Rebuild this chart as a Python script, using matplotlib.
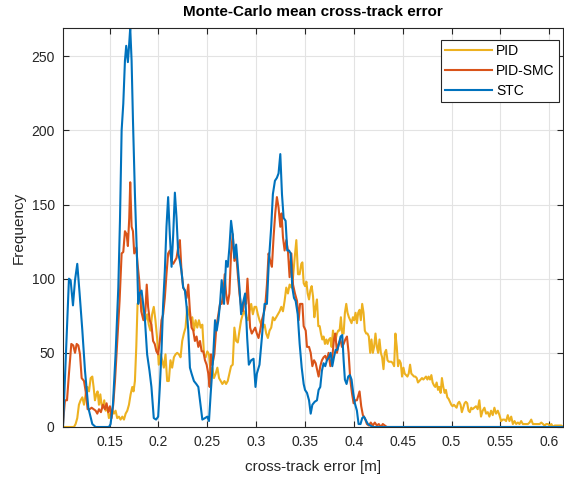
import matplotlib.pyplot as plt

# histogram-like frequency curves
pid_x = [0.1023, 0.1135, 0.1152, 0.1169, 0.1186, 0.1203, 0.1221, 0.1238, 0.1255, 0.1272, 0.1289, 0.1306,
         0.1323, 0.1336, 0.1350, 0.1364, 0.1377, 0.1391, 0.1405, 0.1418, 0.1432, 0.1445, 0.1459, 0.1476,
         0.1493, 0.1510, 0.1527, 0.1544, 0.1561, 0.1578, 0.1595, 0.1612, 0.1630, 0.1647, 0.1664, 0.1681,
         0.1698, 0.1715, 0.1732, 0.1745, 0.1759, 0.1773, 0.1786, 0.1800, 0.1817, 0.1832, 0.1849, 0.1866,
         0.1884, 0.1901, 0.1918, 0.1935, 0.1952, 0.1969, 0.1986, 0.2003, 0.2021, 0.2038, 0.2055, 0.2072,
         0.2089, 0.2106, 0.2123, 0.2140, 0.2158, 0.2175, 0.2192, 0.2209, 0.2226, 0.2243, 0.2260, 0.2277,
         0.2295, 0.2312, 0.2329, 0.2346, 0.2363, 0.2380, 0.2397, 0.2414, 0.2432, 0.2449, 0.2466, 0.2483,
         0.2500, 0.2517, 0.2534, 0.2551, 0.2568, 0.2586, 0.2603, 0.2620, 0.2637, 0.2654, 0.2675, 0.2692,
         0.2709, 0.2726, 0.2743, 0.2760, 0.2777, 0.2795, 0.2812, 0.2829, 0.2846, 0.2863, 0.2880, 0.2897,
         0.2914, 0.2932, 0.2949, 0.2966, 0.2983, 0.3000, 0.3017, 0.3034, 0.3051, 0.3068, 0.3086, 0.3103,
         0.3120, 0.3137, 0.3154, 0.3171, 0.3188, 0.3205, 0.3223, 0.3240, 0.3257, 0.3274, 0.3291, 0.3308,
         0.3325, 0.3342, 0.3360, 0.3377, 0.3394, 0.3411, 0.3428, 0.3445, 0.3462, 0.3473, 0.3486, 0.3500,
         0.3514, 0.3527, 0.3541, 0.3554, 0.3568, 0.3582, 0.3595, 0.3609, 0.3622, 0.3636, 0.3650, 0.3663,
         0.3677, 0.3690, 0.3704, 0.3718, 0.3731, 0.3745, 0.3759, 0.3772, 0.3786, 0.3799, 0.3813, 0.3827,
         0.3840, 0.3854, 0.3867, 0.3881, 0.3895, 0.3908, 0.3922, 0.3935, 0.3949, 0.3963, 0.3976, 0.3990,
         0.4003, 0.4017, 0.4031, 0.4044, 0.4058, 0.4071, 0.4085, 0.4099, 0.4112, 0.4126, 0.4139, 0.4153,
         0.4167, 0.4180, 0.4194, 0.4207, 0.4221, 0.4235, 0.4248, 0.4262, 0.4276, 0.4289, 0.4303, 0.4316,
         0.4330, 0.4344, 0.4357, 0.4371, 0.4384, 0.4398, 0.4412, 0.4425, 0.4439, 0.4452, 0.4466, 0.4480,
         0.4493, 0.4507, 0.4520, 0.4534, 0.4548, 0.4561, 0.4575, 0.4588, 0.4602, 0.4616, 0.4629, 0.4643,
         0.4656, 0.4670, 0.4684, 0.4697, 0.4711, 0.4724, 0.4738, 0.4752, 0.4765, 0.4779, 0.4793, 0.4806,
         0.4820, 0.4833, 0.4847, 0.4861, 0.4874, 0.4888, 0.4901, 0.4915, 0.4929, 0.4942, 0.4956, 0.4969,
         0.4983, 0.4997, 0.5010, 0.5024, 0.5037, 0.5051, 0.5065, 0.5078, 0.5092, 0.5105, 0.5119, 0.5133,
         0.5146, 0.5160, 0.5173, 0.5187, 0.5201, 0.5214, 0.5250, 0.5267, 0.5284, 0.5301, 0.5318, 0.5336,
         0.5353, 0.5370, 0.5387, 0.5404, 0.5421, 0.5438, 0.5455, 0.5473, 0.5490, 0.5507, 0.5524, 0.5541,
         0.5558, 0.5575, 0.5592, 0.5610, 0.5627, 0.5644, 0.5661, 0.5678, 0.5695, 0.5712, 0.5729, 0.5747,
         0.5764, 0.5781, 0.5798, 0.5815, 0.5832, 0.5849, 0.5866, 0.5884, 0.5901, 0.5918, 0.5935, 0.5952,
         0.5969, 0.5986, 0.6003, 0.6021, 0.6038, 0.6055, 0.6072, 0.6089, 0.6106, 0.6123, 0.6140]
pid_y = [0, 0, 2, 6, 15, 18, 20, 15, 22, 27, 24, 33,
         34, 27, 18, 22, 24, 15, 22, 15, 13, 18, 11, 13,
         6, 9, 11, 9, 11, 6, 7, 5, 7, 5, 9, 11,
         15, 22, 27, 24, 31, 54, 83, 85, 87, 85, 76, 72,
         76, 69, 65, 76, 81, 72, 60, 42, 49, 45, 40, 49,
         31, 31, 45, 40, 47, 49, 50, 49, 47, 58, 63, 67,
         81, 76, 72, 74, 65, 72, 67, 72, 67, 69, 49, 47,
         51, 49, 36, 40, 33, 36, 40, 33, 31, 29, 31, 29,
         31, 36, 41, 42, 67, 58, 57, 65, 72, 76, 78, 74,
         72, 78, 83, 76, 81, 81, 76, 72, 69, 67, 69, 63,
         60, 65, 67, 74, 72, 74, 76, 78, 81, 78, 85, 94,
         90, 96, 94, 101, 114, 126, 103, 103, 110, 111, 97, 95,
         98, 90, 86, 92, 95, 88, 74, 81, 86, 68, 68, 63,
         59, 61, 56, 59, 56, 59, 60, 54, 65, 59, 59, 63,
         65, 65, 74, 63, 63, 77, 83, 77, 74, 72, 70, 74,
         72, 77, 70, 77, 79, 72, 83, 77, 65, 63, 63, 61,
         50, 59, 50, 54, 63, 54, 50, 59, 50, 47, 39, 50,
         52, 45, 44, 44, 44, 43, 41, 63, 54, 41, 45, 43,
         34, 40, 36, 35, 34, 36, 42, 36, 35, 34, 34, 33,
         30, 31, 32, 33, 32, 33, 34, 32, 34, 32, 35, 30,
         28, 27, 30, 25, 27, 23, 33, 27, 23, 25, 20, 19,
         17, 15, 14, 15, 14, 13, 16, 17, 15, 10, 13, 16,
         17, 16, 11, 10, 13, 12, 14, 12, 18, 7, 11, 13,
         9, 10, 7, 11, 8, 13, 9, 11, 8, 4, 5, 5,
         4, 8, 4, 7, 2, 4, 2, 3, 2, 4, 2, 2,
         2, 2, 3, 5, 2, 2, 2, 2, 2, 3, 2, 1,
         2, 2, 1, 2, 0, 1, 1, 1, 1, 1, 0]

smc_x = [0.1023, 0.1043, 0.1064, 0.1084, 0.1108, 0.1128, 0.1146, 0.1163, 0.1180, 0.1197, 0.1214, 0.1238,
         0.1255, 0.1275, 0.1296, 0.1316, 0.1336, 0.1357, 0.1374, 0.1391, 0.1411, 0.1432, 0.1452, 0.1469,
         0.1486, 0.1503, 0.1520, 0.1537, 0.1555, 0.1578, 0.1602, 0.1623, 0.1640, 0.1657, 0.1674, 0.1687,
         0.1701, 0.1711, 0.1725, 0.1739, 0.1752, 0.1773, 0.1786, 0.1803, 0.1824, 0.1846, 0.1866, 0.1880,
         0.1894, 0.1911, 0.1928, 0.1945, 0.1962, 0.1979, 0.1997, 0.2014, 0.2031, 0.2048, 0.2065, 0.2082,
         0.2099, 0.2116, 0.2134, 0.2151, 0.2168, 0.2185, 0.2202, 0.2219, 0.2236, 0.2253, 0.2271, 0.2288,
         0.2305, 0.2322, 0.2339, 0.2356, 0.2373, 0.2390, 0.2408, 0.2425, 0.2442, 0.2459, 0.2476, 0.2493,
         0.2510, 0.2524, 0.2538, 0.2551, 0.2572, 0.2592, 0.2613, 0.2630, 0.2647, 0.2664, 0.2678, 0.2692,
         0.2709, 0.2726, 0.2743, 0.2760, 0.2777, 0.2795, 0.2812, 0.2829, 0.2846, 0.2863, 0.2880, 0.2897,
         0.2911, 0.2925, 0.2938, 0.2955, 0.2973, 0.2990, 0.3007, 0.3024, 0.3041, 0.3058, 0.3075, 0.3092,
         0.3110, 0.3127, 0.3144, 0.3161, 0.3178, 0.3195, 0.3212, 0.3229, 0.3247, 0.3260, 0.3274, 0.3291,
         0.3308, 0.3325, 0.3342, 0.3360, 0.3377, 0.3397, 0.3418, 0.3435, 0.3449, 0.3473, 0.3486, 0.3507,
         0.3520, 0.3541, 0.3558, 0.3575, 0.3592, 0.3609, 0.3626, 0.3639, 0.3656, 0.3673, 0.3690, 0.3707,
         0.3724, 0.3741, 0.3759, 0.3779, 0.3796, 0.3810, 0.3827, 0.3844, 0.3861, 0.3878, 0.3895, 0.3912,
         0.3929, 0.3946, 0.3963, 0.3980, 0.3997, 0.4014, 0.4031, 0.4058, 0.4075, 0.4092, 0.4112, 0.4133,
         0.4153, 0.4173, 0.4194, 0.4214, 0.4235, 0.4255, 0.4276, 0.4296, 0.4316, 0.4337, 0.6140]
smc_y = [2, 18, 18, 36, 56, 55, 50, 56, 55, 49, 33, 31,
         24, 12, 12, 13, 12, 11, 9, 12, 10, 15, 12, 16,
         10, 14, 6, 15, 31, 58, 85, 117, 118, 132, 130, 122,
         141, 165, 135, 132, 117, 121, 110, 99, 78, 72, 78, 96,
         81, 72, 69, 58, 56, 51, 49, 58, 72, 76, 87, 103,
         117, 119, 112, 110, 112, 114, 121, 126, 105, 94, 92, 87,
         96, 78, 67, 65, 58, 61, 54, 58, 51, 51, 45, 42,
         36, 27, 49, 42, 49, 67, 76, 83, 83, 90, 103, 90,
         83, 90, 117, 130, 112, 117, 103, 90, 81, 78, 85, 83,
         100, 83, 67, 63, 65, 67, 63, 60, 65, 72, 76, 81,
         96, 117, 112, 108, 128, 144, 155, 148, 135, 144, 128, 119,
         126, 119, 101, 117, 96, 90, 85, 72, 83, 83, 68, 65,
         54, 54, 50, 41, 45, 43, 38, 34, 41, 45, 47, 48,
         45, 50, 41, 47, 59, 63, 50, 56, 59, 54, 56, 59,
         61, 50, 32, 23, 16, 18, 18, 24, 14, 8, 6, 2,
         1, 3, 1, 3, 1, 2, 0, 2, 1, 0, 0]

stc_x = [0.1023, 0.1084, 0.1101, 0.1125, 0.1146, 0.1169, 0.1193, 0.1221, 0.1248, 0.1282, 0.1323, 0.1357,
         0.1493, 0.1510, 0.1534, 0.1561, 0.1589, 0.1606, 0.1623, 0.1640, 0.1657, 0.1670, 0.1687, 0.1698,
         0.1711, 0.1725, 0.1739, 0.1759, 0.1779, 0.1793, 0.1807, 0.1827, 0.1860, 0.1884, 0.1908, 0.1928,
         0.1952, 0.1976, 0.1997, 0.2014, 0.2031, 0.2048, 0.2065, 0.2082, 0.2099, 0.2116, 0.2134, 0.2151,
         0.2168, 0.2185, 0.2202, 0.2219, 0.2236, 0.2253, 0.2271, 0.2288, 0.2305, 0.2322, 0.2339, 0.2363,
         0.2387, 0.2408, 0.2425, 0.2449, 0.2476, 0.2500, 0.2517, 0.2534, 0.2558, 0.2579, 0.2596, 0.2613,
         0.2630, 0.2647, 0.2671, 0.2692, 0.2709, 0.2726, 0.2743, 0.2760, 0.2777, 0.2795, 0.2812, 0.2829,
         0.2846, 0.2863, 0.2887, 0.2908, 0.2925, 0.2949, 0.2973, 0.2993, 0.3007, 0.3034, 0.3062, 0.3086,
         0.3110, 0.3130, 0.3154, 0.3171, 0.3192, 0.3212, 0.3229, 0.3247, 0.3264, 0.3281, 0.3301, 0.3318,
         0.3336, 0.3353, 0.3370, 0.3387, 0.3404, 0.3425, 0.3445, 0.3466, 0.3486, 0.3500, 0.3520, 0.3541,
         0.3558, 0.3575, 0.3599, 0.3622, 0.3639, 0.3656, 0.3673, 0.3690, 0.3707, 0.3724, 0.3745, 0.3762,
         0.3779, 0.3796, 0.3813, 0.3830, 0.3847, 0.3864, 0.3881, 0.3895, 0.3908, 0.3925, 0.3942, 0.3959,
         0.3976, 0.3993, 0.4010, 0.4031, 0.4048, 0.4068, 0.4085, 0.4102, 0.4119, 0.4143, 0.4167, 0.4194,
         0.6140]
stc_y = [0, 100, 99, 82, 99, 110, 90, 65, 38, 13, 2, 0,
         0, 2, 15, 49, 94, 139, 200, 218, 247, 257, 246, 256,
         269, 247, 207, 157, 117, 83, 90, 92, 74, 49, 38, 27,
         6, 5, 7, 27, 51, 83, 105, 135, 155, 130, 108, 130,
         158, 141, 117, 112, 105, 94, 92, 81, 65, 40, 36, 31,
         29, 27, 18, 5, 6, 7, 4, 22, 45, 72, 65, 72,
         83, 99, 83, 112, 108, 121, 139, 130, 114, 123, 108, 94,
         76, 83, 90, 60, 42, 45, 46, 27, 36, 42, 63, 83,
         83, 112, 135, 157, 166, 168, 171, 184, 157, 141, 139, 119,
         119, 117, 94, 87, 85, 76, 56, 40, 29, 25, 23, 18,
         9, 15, 17, 18, 25, 27, 38, 43, 41, 45, 47, 50,
         41, 47, 52, 52, 56, 61, 62, 45, 32, 29, 34, 35,
         32, 23, 16, 11, 2, 2, 6, 7, 5, 2, 1, 0,
         0]

x_ticks = [0.15, 0.2, 0.25, 0.3, 0.35, 0.4, 0.45, 0.5, 0.55, 0.6]
y_ticks = [0, 50, 100, 150, 200, 250]

plt.rcParams["font.family"] = ["Liberation Sans", "DejaVu Sans"]
axis_col = "#262626"

fig = plt.figure(figsize=(5.64, 4.78), dpi=100)
ax = fig.add_axes([0.1117, 0.1067, 0.8865, 0.8347])

ax.plot(pid_x, pid_y, color="#EDB120", lw=1.5, label="PID")
ax.plot(smc_x, smc_y, color="#D95319", lw=1.5, label="PID-SMC")
ax.plot(stc_x, stc_y, color="#0072BD", lw=1.5, label="STC")

ax.set_xlim(0.1023, 0.6140)
ax.set_ylim(0, 269)
ax.set_xticks(x_ticks)
ax.set_xticklabels([f"{t:g}" for t in x_ticks])
ax.set_yticks(y_ticks)
ax.grid(True, color="#e3e3e3", lw=0.8)
ax.set_axisbelow(True)
ax.tick_params(direction="in", top=True, right=True, length=4, width=0.8,
               labelsize=10, colors=axis_col, pad=6)
for s in ax.spines.values():
    s.set_color(axis_col)
    s.set_linewidth(0.8)

ax.set_xlabel("cross-track error [m]", fontsize=11, color=axis_col, labelpad=8)
ax.set_ylabel("Frequency", fontsize=11, color=axis_col, labelpad=4)
ax.set_title("Monte-Carlo mean cross-track error", fontsize=11, fontweight="bold", pad=9)

leg = ax.legend(loc="upper right", bbox_to_anchor=(0.992, 0.970), borderaxespad=0,
                fontsize=10, fancybox=False, framealpha=1, edgecolor=axis_col,
                handlelength=3.4, handletextpad=0.3, labelspacing=0.42, borderpad=0.3)
leg.get_frame().set_linewidth(0.8)

fig.savefig("out.png", dpi=100)
